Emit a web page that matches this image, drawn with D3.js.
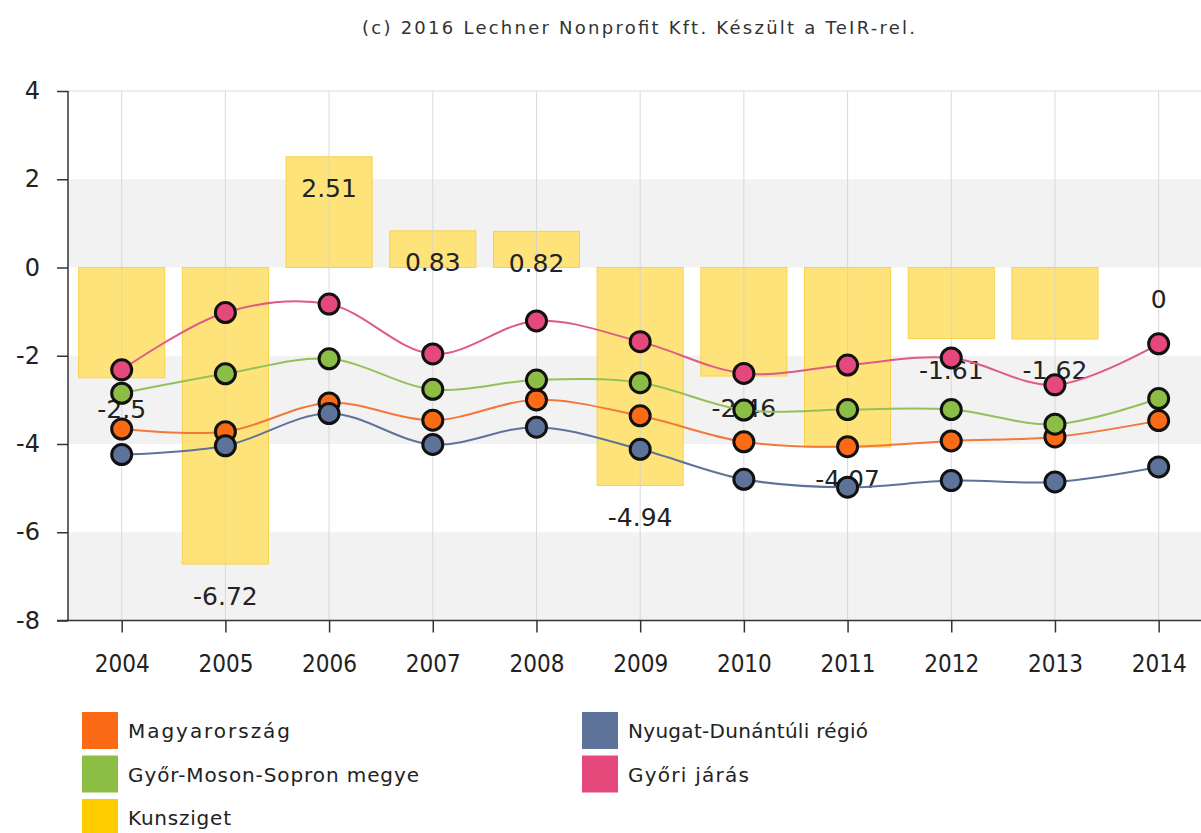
<!DOCTYPE html>
<html>
<head>
<meta charset="utf-8">
<script src="https://cdn.jsdelivr.net/npm/d3@7/dist/d3.min.js"></script>
<style>
  html, body { margin: 0; padding: 0; background: #fff; }
  svg { display: block; }
  text { font-family: "DejaVu Sans", Verdana, sans-serif; }
</style>
</head>
<body>
<svg id="chart" width="1201" height="833"></svg>
<script>
// ---- data ----
const years = ["2004","2005","2006","2007","2008","2009","2010","2011","2012","2013","2014"];
const kunsziget      = [-2.5, -6.72, 2.51, 0.83, 0.82, -4.94, -2.46, -4.07, -1.61, -1.62, 0];
const magyarorszag   = [-3.66, -3.72, -3.07, -3.46, -3.00, -3.36, -3.95, -4.06, -3.93, -3.84, -3.47];
const nyugatDunantul = [-4.24, -4.04, -3.31, -4.01, -3.62, -4.12, -4.80, -4.98, -4.83, -4.86, -4.52];
const gyorMosonSopron= [-2.85, -2.41, -2.07, -2.76, -2.55, -2.61, -3.23, -3.22, -3.22, -3.55, -2.97];
const gyoriJaras     = [-2.32, -1.02, -0.83, -1.96, -1.21, -1.68, -2.40, -2.21, -2.05, -2.66, -1.73];
const yTicks = [4, 2, 0, -2, -4, -6, -8];
const titleText = "(c) 2016 Lechner Nonprofit Kft. Készült a TeIR-rel.";

const lineSeries = [
  { name: "Magyarország", values: magyarorszag, color: "#fb6a14", line: "#f4773a" },
  { name: "Nyugat-Dunántúli régió", values: nyugatDunantul, color: "#5d7399", line: "#5d7399" },
  { name: "Győr-Moson-Sopron megye", values: gyorMosonSopron, color: "#8cbd45", line: "#94c05a" },
  { name: "Győri járás", values: gyoriJaras, color: "#e5487b", line: "#df5a86" }
];
const barSeries = { name: "Kunsziget", values: kunsziget, color: "#ffcc00" };

// ---- layout ----
const W = 1201, H = 833;
const svg = d3.select("#chart");
svg.append("rect").attr("width", W).attr("height", H).attr("fill", "#fff");

const plotLeft = 68, plotRight = W;
const x = d3.scalePoint().domain(years).range([69.85, 1210.5]).padding(0.5);
const step = x.step();
const y = d3.scaleLinear().domain([-8, 4]).range([620.5, 91]);

// alternating bands
for (let i = 1; i < yTicks.length - 1; i += 2) {
  svg.append("rect")
    .attr("x", plotLeft).attr("width", plotRight - plotLeft)
    .attr("y", y(yTicks[i])).attr("height", y(yTicks[i + 1]) - y(yTicks[i]))
    .attr("fill", "#f2f2f2");
}
// top grid line
svg.append("line")
  .attr("x1", plotLeft).attr("x2", plotRight)
  .attr("y1", y(4)).attr("y2", y(4))
  .attr("stroke", "#dcdcdc").attr("stroke-width", 1);

// bars
const barW = step * 0.83;
svg.append("g").selectAll("rect").data(kunsziget).join("rect")
  .attr("x", (d, i) => x(years[i]) - barW / 2)
  .attr("width", barW)
  .attr("y", d => y(Math.max(0, d)))
  .attr("height", d => Math.abs(y(d) - y(0)))
  .attr("fill", "#fde37a")
  .attr("stroke", "#f7d24c").attr("stroke-width", 1);

// vertical grid lines
svg.append("g").selectAll("line").data(years).join("line")
  .attr("x1", d => x(d)).attr("x2", d => x(d))
  .attr("y1", y(4)).attr("y2", y(-8))
  .attr("stroke", "#d4d4d4").attr("stroke-opacity", 0.85).attr("stroke-width", 1);

// y axis
const yAxis = svg.append("g").attr("transform", `translate(${plotLeft},0)`)
  .call(d3.axisLeft(y).tickValues(yTicks).tickSize(11).tickSizeOuter(0).tickPadding(17).tickFormat(d => String(d)));
yAxis.select(".domain").remove();
yAxis.selectAll(".tick line").attr("stroke", "#333").attr("stroke-width", 1.5);
yAxis.selectAll(".tick text").attr("font-size", 24).attr("fill", "#222")
  .attr("font-family", "DejaVu Sans, Verdana, sans-serif");
svg.append("line").attr("x1", plotLeft).attr("x2", plotLeft)
  .attr("y1", y(4)).attr("y2", y(-8)).attr("stroke", "#333").attr("stroke-width", 1.5);

// x axis
const xAxis = svg.append("g").attr("transform", `translate(0,${y(-8)})`)
  .call(d3.axisBottom(x).tickSize(12).tickSizeOuter(0).tickPadding(22));
xAxis.select(".domain").remove();
xAxis.selectAll(".tick line").attr("stroke", "#333").attr("stroke-width", 1.5);
xAxis.selectAll(".tick text").attr("font-size", 24).attr("fill", "#222")
  .attr("font-family", "DejaVu Sans Condensed, DejaVu Sans, sans-serif")
  .attr("font-stretch", "condensed");
svg.append("line").attr("x1", 57).attr("x2", plotRight)
  .attr("y1", y(-8)).attr("y2", y(-8)).attr("stroke", "#333").attr("stroke-width", 1.5);

// bar labels
svg.append("g").selectAll("text").data(kunsziget).join("text")
  .attr("x", (d, i) => x(years[i]))
  .attr("y", d => y(d) + 32)
  .attr("text-anchor", "middle")
  .attr("dominant-baseline", "central")
  .attr("font-size", 25).attr("fill", "#222")
  .text(d => String(d));

// lines and markers
const lineGen = d3.line()
  .x((d, i) => x(years[i]))
  .y(d => y(d))
  .curve(d3.curveCatmullRom.alpha(0.5));

lineSeries.forEach(s => {
  const g = svg.append("g");
  g.append("path").datum(s.values)
    .attr("d", lineGen)
    .attr("fill", "none")
    .attr("stroke", s.line).attr("stroke-width", 2);
  g.selectAll("circle").data(s.values).join("circle")
    .attr("cx", (d, i) => x(years[i]))
    .attr("cy", d => y(d))
    .attr("r", 10)
    .attr("fill", s.color)
    .attr("stroke", "#111").attr("stroke-width", 3);
});

// title
svg.append("text")
  .attr("x", 362).attr("y", 34)
  .attr("font-size", 18).attr("fill", "#333")
  .attr("textLength", 553).attr("lengthAdjust", "spacing")
  .text(titleText);

// legend
const legendItems = [
  { name: lineSeries[0].name, color: lineSeries[0].color, len: 162 },
  { name: lineSeries[1].name, color: lineSeries[1].color, len: 240 },
  { name: lineSeries[2].name, color: lineSeries[2].color, len: 291 },
  { name: lineSeries[3].name, color: lineSeries[3].color, len: 121 },
  { name: barSeries.name, color: barSeries.color, len: 103 }
];
const colX = [82, 582];
legendItems.forEach((it, i) => {
  const cx = colX[i % 2];
  const top = 712 + Math.floor(i / 2) * 43.5;
  svg.append("rect").attr("x", cx).attr("y", top).attr("width", 36).attr("height", 37)
    .attr("fill", it.color);
  svg.append("text")
    .attr("x", cx + 46).attr("y", top + 19)
    .attr("dominant-baseline", "central")
    .attr("font-size", 20).attr("fill", "#222")
    .attr("textLength", it.len).attr("lengthAdjust", "spacing")
    .text(it.name);
});
</script>
</body>
</html>
